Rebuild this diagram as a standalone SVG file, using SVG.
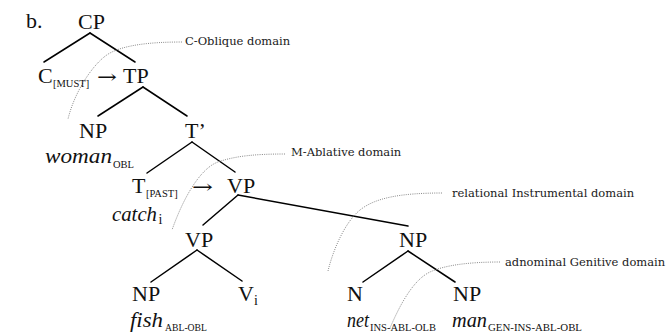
<svg xmlns="http://www.w3.org/2000/svg" width="671" height="334" viewBox="0 0 671 334">
  <style>
    .cat { font-family: "Liberation Serif", "Times New Roman", serif; font-size: 22px; fill: #111; }
    .word { font-family: "Liberation Serif", "Times New Roman", serif; font-size: 22px; font-style: italic; fill: #111; }
    .sub { font-family: "Liberation Serif", "Times New Roman", serif; font-size: 10.5px; fill: #111; }
    .idx { font-family: "Liberation Serif", "Times New Roman", serif; font-size: 14px; fill: #111; }
    .arrow { font-family: "DejaVu Serif", serif; font-size: 18px; fill: #111; }
    .dom { font-family: "DejaVu Serif", serif; font-size: 11.5px; fill: #1a1a1a; }
    .branch { stroke: #000; stroke-width: 1.5; fill: none; stroke-linecap: round; }
    .scope { stroke: #7a7a7a; stroke-width: 0.9; fill: none; stroke-dasharray: 1 1.2; }
  </style>

  <!-- example letter -->
  <text class="cat" x="26" y="28">b.</text>

  <!-- tree branches -->
  <g id="branches">
    <line class="branch" x1="90" y1="33" x2="44" y2="62"/>
    <line class="branch" x1="90" y1="33" x2="135" y2="62"/>
    <line class="branch" x1="143" y1="87" x2="98" y2="116"/>
    <line class="branch" x1="143" y1="87" x2="187" y2="116"/>
    <line class="branch" x1="192" y1="142" x2="147" y2="173"/>
    <line class="branch" x1="192" y1="142" x2="235" y2="172"/>
    <line class="branch" x1="238" y1="195" x2="203" y2="225"/>
    <line class="branch" x1="238" y1="195" x2="408" y2="226"/>
    <line class="branch" x1="197" y1="250" x2="151" y2="282"/>
    <line class="branch" x1="197" y1="250" x2="242" y2="281"/>
    <line class="branch" x1="408" y1="251" x2="363" y2="282"/>
    <line class="branch" x1="408" y1="251" x2="455" y2="282"/>
  </g>

  <!-- dotted domain boundaries -->
  <g id="domains">
    <path class="scope" d="M182,42 C150,42 125,45 110,53 S75,90 68,119"/>
    <path class="scope" d="M285,154 C255,154 235,156 218,162 S184,196 172,230"/>
    <path class="scope" d="M442,193 C400,193 375,198 360,210 S333,250 328,271"/>
    <path class="scope" d="M500,262 C470,262 445,265 430,272 S402,300 390,328"/>
  </g>

  <!-- nodes -->
  <g id="CP"><text class="cat" x="78" y="29">CP</text></g>
  <g id="C">
    <text class="cat" x="38" y="83">C</text>
    <text class="sub" x="53" y="87">[MUST]</text>
    <text class="arrow" x="97" y="83" textLength="20" lengthAdjust="spacingAndGlyphs">→</text>
  </g>
  <g id="TP"><text class="cat" x="123" y="83">TP</text></g>
  <g id="NP-subj">
    <text class="cat" x="79" y="138">NP</text>
    <text class="word" x="45" y="163" textLength="67" lengthAdjust="spacingAndGlyphs">woman</text>
    <text class="sub" x="113" y="168">OBL</text>
  </g>
  <g id="T-bar"><text class="cat" x="185" y="138">T’</text></g>
  <g id="T">
    <text class="cat" x="132" y="193">T</text>
    <text class="sub" x="146" y="197">[PAST]</text>
    <text class="arrow" x="192" y="193" textLength="21" lengthAdjust="spacingAndGlyphs">→</text>
    <text class="word" x="112" y="221" textLength="45" lengthAdjust="spacingAndGlyphs">catch</text>
    <text class="idx" x="158.5" y="224">i</text>
  </g>
  <g id="VP-top"><text class="cat" x="227" y="193">VP</text></g>
  <g id="VP-low"><text class="cat" x="185" y="247">VP</text></g>
  <g id="NP-obj">
    <text class="cat" x="132" y="301">NP</text>
    <text class="word" x="130" y="327" textLength="33" lengthAdjust="spacingAndGlyphs">fish</text>
    <text class="sub" x="165" y="331" textLength="42" lengthAdjust="spacingAndGlyphs">ABL-OBL</text>
  </g>
  <g id="V">
    <text class="cat" x="238" y="301">V</text>
    <text class="idx" x="254" y="305">i</text>
  </g>
  <g id="NP-instr"><text class="cat" x="399" y="247">NP</text></g>
  <g id="N">
    <text class="cat" x="347" y="301">N</text>
    <text class="word" x="347" y="327" textLength="22" lengthAdjust="spacingAndGlyphs">net</text>
    <text class="sub" x="370" y="331" textLength="66" lengthAdjust="spacingAndGlyphs">INS-ABL-OLB</text>
  </g>
  <g id="NP-poss">
    <text class="cat" x="453" y="301">NP</text>
    <text class="word" x="452" y="327" textLength="35" lengthAdjust="spacingAndGlyphs">man</text>
    <text class="sub" x="488" y="331" textLength="94" lengthAdjust="spacingAndGlyphs">GEN-INS-ABL-OBL</text>
  </g>

  <!-- domain labels -->
  <g id="labels">
    <text class="dom" x="185" y="45">C-Oblique domain</text>
    <text class="dom" x="291" y="156">M-Ablative domain</text>
    <text class="dom" x="452" y="197">relational Instrumental domain</text>
    <text class="dom" x="505" y="266">adnominal Genitive domain</text>
  </g>
</svg>
